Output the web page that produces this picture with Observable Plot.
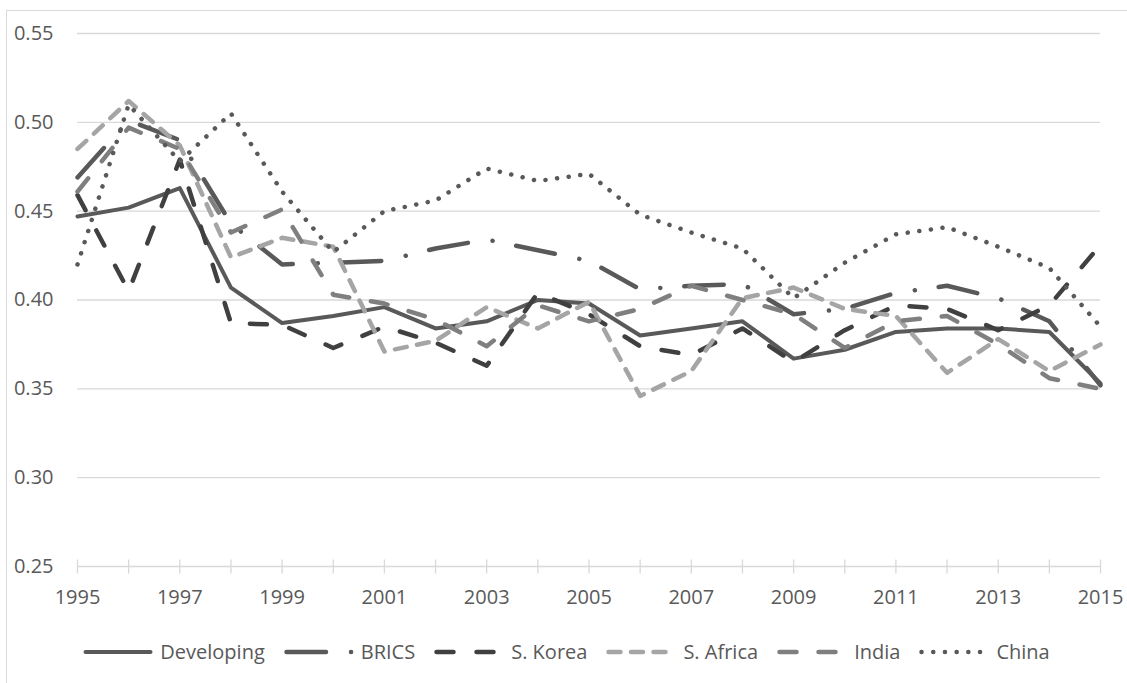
<!DOCTYPE html>
<html>
<head>
<meta charset="utf-8">
<script src="https://cdn.jsdelivr.net/npm/d3@7"></script>
<script src="https://cdn.jsdelivr.net/npm/@observablehq/plot@0.6"></script>
<style>
  html, body { margin: 0; padding: 0; background: #fff; }
  body { width: 1127px; height: 683px; position: relative; overflow: hidden; font-family: "Open Sans", sans-serif; color: #595959; }
  #frame { position: absolute; left: 6px; top: 10px; width: 1200px; height: 800px; border: 1px solid #d9d9d9; box-sizing: border-box; }
  #chart { position: absolute; left: 0; top: 0; }
  #legend { position: absolute; left: 3px; top: 637px; width: 1127px; display: flex; justify-content: center; align-items: center; gap: 19px; font-size: 20px; line-height: 30px; }
  .item { display: flex; align-items: center; gap: 7px; }
  .item svg { display: block; }
</style>
</head>
<body>
<div id="frame"></div>
<div id="chart"></div>
<div id="legend"></div>
<script>
const years = [1995,1996,1997,1998,1999,2000,2001,2002,2003,2004,2005,2006,2007,2008,2009,2010,2011,2012,2013,2014,2015];
const labelYears = [1995,1997,1999,2001,2003,2005,2007,2009,2011,2013,2015];
const yTicks = [0.25,0.30,0.35,0.40,0.45,0.50,0.55];

const developing = [0.447,0.452,0.463,0.407,0.387,0.391,0.396,0.384,0.388,0.400,0.398,0.380,0.384,0.388,0.367,0.372,0.382,0.384,0.384,0.382,0.353];
const brics      = [0.469,0.501,0.490,0.443,0.420,0.421,0.422,0.429,0.434,0.428,0.422,0.406,0.408,0.409,0.392,0.395,0.404,0.408,0.401,0.388,0.352];
const sKorea     = [0.459,0.405,0.479,0.387,0.386,0.373,0.385,0.376,0.363,0.404,0.392,0.374,0.369,0.384,0.365,0.383,0.397,0.395,0.383,0.397,0.431];
const sAfrica    = [0.485,0.512,0.487,0.424,0.435,0.430,0.371,0.377,0.396,0.384,0.399,0.346,0.360,0.401,0.407,0.395,0.391,0.359,0.378,0.360,0.375];
const india      = [0.461,0.497,0.485,0.438,0.451,0.403,0.398,0.389,0.374,0.397,0.388,0.395,0.408,0.400,0.392,0.373,0.388,0.391,0.375,0.356,0.350];
const china      = [0.420,0.510,0.478,0.505,0.461,0.427,0.450,0.456,0.474,0.467,0.471,0.448,0.438,0.429,0.401,0.421,0.437,0.441,0.430,0.418,0.385];

const seriesNames = ["Developing","BRICS","S. Korea","S. Africa","India","China"];
const seriesValues = [developing, brics, sKorea, sAfrica, india, china];
const seriesStyle = [
  {stroke: "#595959", strokeWidth: 4,   dash: null},
  {stroke: "#595959", strokeWidth: 4.5, dash: "39.5,25,0.1,24"},
  {stroke: "#404040", strokeWidth: 4.5, dash: "17,23"},
  {stroke: "#a5a5a5", strokeWidth: 4.5, dash: "12,10.5"},
  {stroke: "#7f7f7f", strokeWidth: 4.5, dash: "17,22"},
  {stroke: "#595959", strokeWidth: 4.5, dash: "0.1,11.6"}
];

const lineMarks = seriesNames.map((name, k) => {
  const rows = years.map((yr, i) => ({year: yr, value: seriesValues[k][i], series: name}));
  const s = seriesStyle[k];
  const opts = {x: "year", y: "value", stroke: s.stroke, strokeWidth: s.strokeWidth, strokeLinecap: "round", strokeLinejoin: "round"};
  if (s.dash) opts.strokeDasharray = s.dash;
  return Plot.line(rows, opts);
});

// cross tick mark symbol (straddles the axis line)
const crossTick = {draw(context) { context.moveTo(0, -7); context.lineTo(0, 7); }};

const chart = Plot.plot({
  width: 1127,
  height: 620,
  marginLeft: 77,
  marginRight: 27,
  marginTop: 33,
  marginBottom: 54,
  style: {fontFamily: "'Open Sans', sans-serif", fontSize: "20px", color: "#595959", background: "transparent", overflow: "visible"},
  x: {domain: [1995, 2015]},
  y: {domain: [0.25, 0.55]},
  marks: [
    Plot.ruleY(yTicks, {y: d => d, stroke: "#d9d9d9", strokeWidth: 1.3}),
    Plot.dot(years, {x: d => d, frameAnchor: "bottom", symbol: crossTick, stroke: "#d9d9d9", strokeWidth: 1.3, fill: "none"}),
    Plot.axisY({ticks: yTicks, tickSize: 0, tickPadding: 24, tickFormat: d3.format(".2f"), label: null, fontSize: 20}),
    Plot.axisX({ticks: labelYears, tickSize: 0, tickPadding: 23, tickFormat: d => String(d), label: null, fontSize: 20}),
    ...lineMarks
  ]
});
document.getElementById("chart").appendChild(chart);

// legend
const legend = document.getElementById("legend");
seriesNames.forEach((name, k) => {
  const s = seriesStyle[k];
  const item = document.createElement("div");
  item.className = "item";
  const svgNS = "http://www.w3.org/2000/svg";
  const svg = document.createElementNS(svgNS, "svg");
  svg.setAttribute("width", "70");
  svg.setAttribute("height", "12");
  const ln = document.createElementNS(svgNS, "line");
  ln.setAttribute("x1", "2.5"); ln.setAttribute("x2", "67.5");
  ln.setAttribute("y1", "6"); ln.setAttribute("y2", "6");
  ln.setAttribute("stroke", s.stroke);
  ln.setAttribute("stroke-width", s.strokeWidth);
  ln.setAttribute("stroke-linecap", "round");
  if (s.dash) ln.setAttribute("stroke-dasharray", s.dash);
  svg.appendChild(ln);
  const span = document.createElement("span");
  span.textContent = name;
  item.appendChild(svg);
  item.appendChild(span);
  legend.appendChild(item);
});
</script>
</body>
</html>
